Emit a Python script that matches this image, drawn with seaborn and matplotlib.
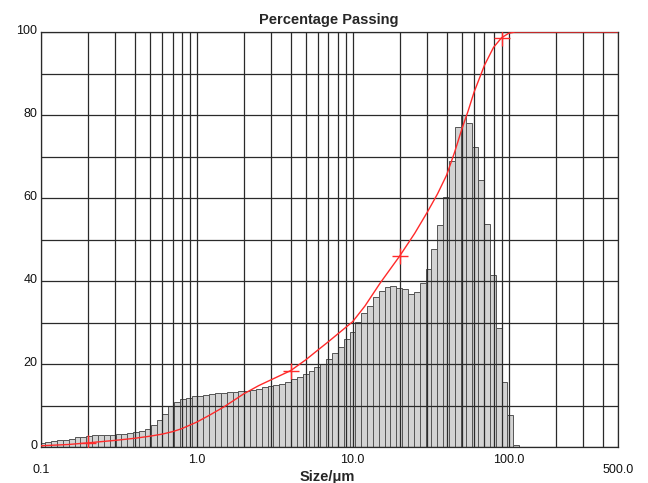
import numpy as np
import matplotlib
matplotlib.use('Agg')
import matplotlib.pyplot as plt
from matplotlib.ticker import NullFormatter
from matplotlib.transforms import ScaledTranslation
import seaborn as sns

# analyser channels (geometric bins), lowest and highest edge in um
channel_lo = 0.0983
channel_hi = 116.7
n_channels = 82

# volume in each channel (bar heights)
channel_volume = [
    1.0, 1.2, 1.4, 1.6, 1.8, 2.0, 2.3, 2.5, 2.65, 2.8,
    2.9, 2.9, 3.0, 3.05, 3.1, 3.3, 3.5, 3.9, 4.4, 5.2,
    6.4, 8.0, 9.8, 10.8, 11.5, 11.9, 12.2, 12.4, 12.5, 12.7,
    12.9, 13.1, 13.2, 13.3, 13.6, 13.6, 13.8, 14.1, 14.4, 14.7,
    15.0, 15.2, 15.7, 16.4, 16.8, 17.6, 18.4, 19.2, 19.9, 21.1,
    22.6, 24.2, 26.0, 27.8, 30.2, 32.2, 34.0, 36.2, 37.6, 38.6,
    38.8, 38.4, 38.1, 36.9, 37.4, 39.6, 42.9, 47.7, 53.5, 60.3,
    68.9, 77.0, 80.0, 78.1, 72.4, 64.3, 53.7, 41.4, 28.7, 15.7,
    7.7, 0.5,
]

# cumulative percentage passing curve
curve_size = [0.1, 0.15, 0.2, 0.3, 0.4, 0.5, 0.6, 0.7, 0.8, 1.0, 1.2, 1.5,
              2.0, 2.5, 3.0, 4.0, 5.0, 6.0, 7.0, 8.0, 10, 12, 15, 20, 25,
              30, 35, 40, 45, 50, 55, 60, 70, 80, 90, 100, 110, 500]
curve_pct = [0.3, 0.6, 1.0, 1.6, 2.1, 2.6, 3.1, 3.7, 4.4, 6.0, 7.6, 9.7,
             12.8, 14.8, 16.2, 18.4, 21.0, 23.4, 25.4, 27.2, 30.2, 34.0, 39.5, 46.0, 51.5,
             56.5, 61.0, 65.5, 71.0, 76.5, 81.0, 85.5, 92.0, 96.3, 98.6, 99.7, 100, 100]

# marked points on the curve
mark_size = [0.2, 4.0, 20, 90]
mark_pct = [1.0, 18.4, 46.0, 98.6]

x_ticks = [0.1, 1, 10, 100, 500]
x_labels = ['0.1', '1.0', '10.0', '100.0', '500.0']
x_minor = [0.2, 0.3, 0.4, 0.5, 0.6, 0.7, 0.8, 0.9,
           2, 3, 4, 5, 6, 7, 8, 9,
           20, 30, 40, 50, 60, 70, 80, 90,
           200, 300, 400]
y_ticks = [0, 20, 40, 60, 80, 100]
y_minor = [10, 30, 50, 70, 90]


def main():
    sns.set_style('white')
    plt.rcParams['font.family'] = ['Liberation Sans', 'DejaVu Sans']

    fig = plt.figure(figsize=(6.48, 4.83), dpi=100)
    ax = fig.add_axes([0.0628, 0.0745, 0.8904, 0.8592])

    edges = np.geomspace(channel_lo, channel_hi, n_channels + 1)
    centers = np.sqrt(edges[:-1] * edges[1:])

    # bins are given in log10 space because of log_scale
    sns.histplot(x=centers, weights=np.array(channel_volume),
                 bins=list(np.log10(edges)), log_scale=True,
                 color='#d3d3d3', edgecolor='#555555',
                 linewidth=0.7, alpha=1, ax=ax, zorder=1)
    sns.lineplot(x=curve_size, y=curve_pct, color='#ff2a2a', linewidth=1.0,
                 ax=ax, zorder=4)
    sns.scatterplot(x=mark_size, y=mark_pct, marker='+', s=120,
                    color='#ff2a2a', linewidth=1.0, ax=ax, zorder=5)

    ax.set_xlim(0.1, 500)
    ax.set_ylim(0, 100)
    ax.set_xticks(x_ticks)
    ax.set_xticklabels(x_labels)
    ax.set_xticks(x_minor, minor=True)
    ax.xaxis.set_minor_formatter(NullFormatter())
    ax.set_yticks(y_ticks)
    ax.set_yticks(y_minor, minor=True)
    ax.tick_params(which='both', length=0, labelsize=9, colors='#111111')
    ax.tick_params(axis='y', pad=2.5)
    ax.tick_params(axis='x', pad=5)
    # first and last size labels sit lower
    ticks = ax.xaxis.get_major_ticks()
    ticks[0].set_pad(12)
    ticks[-1].set_pad(12)
    # percentage labels sit a little above their grid line
    for lbl in ax.get_yticklabels():
        lbl.set_transform(lbl.get_transform() + ScaledTranslation(0, 0.03, fig.dpi_scale_trans))

    ax.set_axisbelow(False)
    ax.grid(True, which='both', color='#2a2a2a', linewidth=0.9, zorder=2)
    for s in ax.spines.values():
        s.set_color('#2a2a2a')
        s.set_linewidth(0.9)

    ax.set_ylabel('')
    ax.set_xlabel('Size/\u03bcm', fontsize=10.5, fontweight='bold')
    ax.xaxis.set_label_coords(0.496, -0.055)
    ax.set_title('Percentage Passing', fontsize=10.5, fontweight='bold', pad=6.0)

    plt.savefig('out.png', dpi=100)
    plt.clf()


if __name__ == "__main__":
    main()
